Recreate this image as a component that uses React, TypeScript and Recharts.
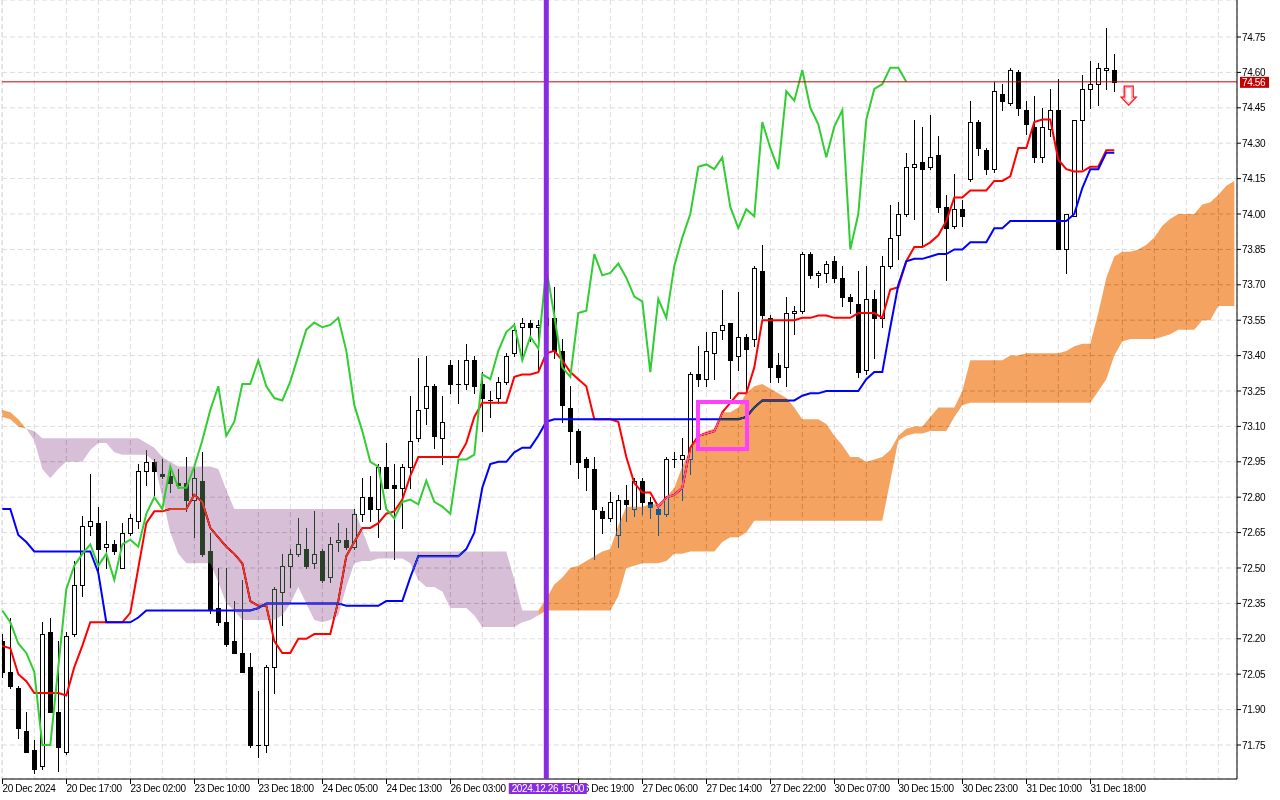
import React from 'react';
import {
  ComposedChart,
  Bar,
  Line,
  Area,
  XAxis,
  YAxis,
  CartesianGrid,
  ReferenceLine,
  ReferenceArea,
  ReferenceDot,
} from 'recharts';

// H1 candles, index 0 = 20 Dec 2024 09:00
const opens = [
  72.19, 72.06, 71.99, 71.81, 71.73, 71.66, 72.23, 71.89, 71.72, 72.22,
  72.43, 72.68, 72.69, 72.59, 72.6, 72.5, 72.65, 72.7, 72.91, 72.95,
  72.9, 72.89, 72.86, 72.86, 72.79, 72.87, 72.57, 72.33, 72.27, 72.19,
  72.14, 72.08, 71.75, 71.75, 72.08, 72.4, 72.51, 72.56, 72.58, 72.52,
  72.57, 72.46, 72.61, 72.62, 72.59, 72.73, 72.8, 72.75, 72.93, 72.85,
  72.84, 72.93, 73.05, 73.18, 73.27, 73.05, 73.36, 73.28, 73.28, 73.38,
  73.28, 73.21, 73.22, 73.29, 73.41, 73.52, 73.54, 73.52, 73.53, 73.56,
  73.42, 73.18, 73.08, 72.96, 72.92, 72.74, 72.71, 72.64, 72.79, 72.75,
  72.87, 72.78, 72.75, 72.73, 72.96, 72.96, 72.96, 73.32, 73.3, 73.41,
  73.51, 73.54, 73.4, 73.48, 73.47, 73.76, 73.56, 73.36, 73.35, 73.58,
  73.59, 73.83, 73.74, 73.75, 73.8, 73.73, 73.65, 73.62, 73.34, 73.64,
  73.56, 73.78, 73.91, 74.0, 74.2, 74.22, 74.2, 74.25, 74.03, 73.95,
  74.02, 74.15, 74.39, 74.27, 74.19, 74.51, 74.47, 74.6, 74.44, 74.37,
  74.24, 74.36, 74.44, 73.85, 73.99, 74.4, 74.53, 74.55, 74.61, 74.61,
];
const highs = [
  72.22, 72.29, 72.0, 71.89, 71.77, 72.27, 72.29, 72.19, 72.23, 72.53,
  72.72, 72.9, 72.76, 72.7, 72.62, 72.69, 72.73, 72.94, 73.0, 72.96,
  72.96, 72.93, 72.92, 72.97, 72.93, 72.99, 72.65, 72.5, 72.5, 72.36,
  72.45, 72.14, 71.98, 72.09, 72.42, 72.56, 72.58, 72.71, 72.67, 72.74,
  72.58, 72.63, 72.69, 72.67, 72.75, 72.88, 72.89, 72.94, 73.03, 72.94,
  72.94, 73.23, 73.39, 73.4, 73.28, 73.23, 73.38, 73.38, 73.45, 73.4,
  73.33, 73.25, 73.31, 73.41, 73.54, 73.56, 73.55, 73.55, 73.62, 73.69,
  73.47, 73.27, 73.09, 72.97, 72.97, 72.76, 72.82, 72.81, 72.85, 72.88,
  72.88, 72.8, 72.76, 72.97, 72.99, 73.05, 73.33, 73.44, 73.5, 73.5,
  73.68, 73.54, 73.67, 73.49, 73.78, 73.87, 73.57, 73.41, 73.65, 73.61,
  73.84, 73.84, 73.76, 73.8, 73.82, 73.78, 73.66, 73.76, 73.78, 73.68,
  73.82, 74.04, 74.05, 74.26, 74.4, 74.37, 74.42, 74.33, 74.08, 74.17,
  74.06, 74.48, 74.4, 74.28, 74.56, 74.55, 74.62, 74.61, 74.48, 74.5,
  74.45, 74.53, 74.57, 74.0, 74.4, 74.59, 74.65, 74.64, 74.79, 74.68,
];
const lows = [
  72.04, 71.99, 71.78, 71.72, 71.63, 71.65, 71.89, 71.64, 71.71, 72.21,
  72.38, 72.64, 72.48, 72.5, 72.56, 72.5, 72.64, 72.67, 72.85, 72.81,
  72.88, 72.82, 72.84, 72.74, 72.63, 72.55, 72.31, 72.26, 72.17, 72.14,
  72.06, 71.74, 71.7, 71.72, 71.97, 72.26, 72.42, 72.55, 72.5, 72.5,
  72.44, 72.44, 72.57, 72.58, 72.58, 72.7, 72.7, 72.63, 72.84, 72.54,
  72.67, 72.84, 73.04, 73.11, 73.01, 72.94, 73.24, 73.2, 73.26, 73.24,
  73.08, 73.14, 73.2, 73.28, 73.4, 73.38, 73.46, 73.33, 73.45, 73.39,
  73.12, 72.94, 72.88, 72.83, 72.54, 72.65, 72.7, 72.59, 72.7, 72.72,
  72.73, 72.71, 72.64, 72.72, 72.93, 72.79, 72.9, 73.27, 73.27, 73.3,
  73.47, 73.22, 73.34, 73.24, 73.44, 73.56, 73.29, 73.29, 73.27, 73.49,
  73.58, 73.73, 73.69, 73.71, 73.71, 73.61, 73.58, 73.31, 73.32, 73.39,
  73.52, 73.77, 73.81, 73.99, 73.98, 73.87, 74.19, 74.01, 73.72, 73.94,
  73.95, 74.14, 74.25, 74.17, 74.18, 74.44, 74.46, 74.42, 74.34, 74.22,
  74.22, 74.33, 73.85, 73.75, 73.99, 74.19, 74.45, 74.46, 74.53, 74.52,
];
const closes = [
  72.06, 72.0, 71.82, 71.72, 71.65, 72.22, 71.89, 71.74, 72.21, 72.43,
  72.68, 72.7, 72.58, 72.6, 72.57, 72.65, 72.71, 72.91, 72.95, 72.91,
  72.89, 72.86, 72.85, 72.79, 72.88, 72.56, 72.32, 72.27, 72.18, 72.14,
  72.06, 71.75, 71.75, 72.08, 72.41, 72.51, 72.56, 72.6, 72.51, 72.56,
  72.45, 72.6, 72.62, 72.59, 72.73, 72.8, 72.75, 72.93, 72.84, 72.84,
  72.93, 73.04, 73.17, 73.27, 73.06, 73.12, 73.28, 73.28, 73.38, 73.27,
  73.22, 73.21, 73.29, 73.4, 73.51, 73.54, 73.52, 73.53, 73.56, 73.42,
  73.19, 73.08, 72.95, 72.93, 72.75, 72.71, 72.78, 72.79, 72.77, 72.87,
  72.78, 72.76, 72.73, 72.96, 72.96, 72.98, 73.32, 73.3, 73.42, 73.5,
  73.53, 73.38, 73.48, 73.43, 73.77, 73.57, 73.35, 73.31, 73.58, 73.59,
  73.83, 73.74, 73.75, 73.79, 73.73, 73.65, 73.63, 73.33, 73.64, 73.56,
  73.78, 73.9, 74.0, 74.2, 74.21, 74.19, 74.24, 74.03, 73.94, 74.02,
  73.99, 74.39, 74.28, 74.19, 74.52, 74.48, 74.61, 74.45, 74.38, 74.24,
  74.37, 74.44, 73.85, 74.0, 74.4, 74.53, 74.55, 74.62, 74.62, 74.56,
];

// Ichimoku lines
const tenkan = [
  72.17, 72.16, 72.05, 72.02, 71.97, 71.97, 71.97, 71.97, 71.96, 72.08,
  72.17, 72.27, 72.27, 72.27, 72.27, 72.27, 72.31, 72.5, 72.69, 72.74,
  72.74, 72.75, 72.75, 72.75, 72.81, 72.78, 72.67, 72.63, 72.59, 72.56,
  72.52, 72.36, 72.34, 72.34, 72.19, 72.14, 72.14, 72.2, 72.2, 72.22,
  72.22, 72.22, 72.36, 72.55, 72.61, 72.67, 72.67, 72.69, 72.73, 72.74,
  72.79, 72.89, 72.97, 72.97, 72.97, 72.97, 72.97, 72.97, 73.03, 73.14,
  73.2, 73.2, 73.2, 73.2, 73.31, 73.32, 73.32, 73.33, 73.41, 73.42,
  73.38, 73.33, 73.3, 73.27, 73.13, 73.13, 73.13, 73.12, 72.97, 72.86,
  72.82, 72.82, 72.76, 72.8, 72.81, 72.84, 73.01, 73.06, 73.07, 73.08,
  73.16, 73.2, 73.24, 73.24, 73.35, 73.55, 73.55, 73.55, 73.55, 73.55,
  73.56, 73.56, 73.57, 73.57, 73.56, 73.56, 73.56, 73.58, 73.58, 73.58,
  73.56, 73.68, 73.69, 73.8, 73.86, 73.86, 73.88, 73.91, 73.97, 74.07,
  74.07, 74.1, 74.1, 74.1, 74.14, 74.14, 74.16, 74.28, 74.28, 74.39,
  74.4, 74.4, 74.23, 74.19, 74.18, 74.18, 74.2, 74.2, 74.27, 74.27,
];
const kijun = [
  72.75, 72.75, 72.64, 72.61, 72.57, 72.57, 72.57, 72.57, 72.57, 72.57,
  72.57, 72.57, 72.48, 72.27, 72.27, 72.27, 72.27, 72.29, 72.32, 72.32,
  72.32, 72.32, 72.32, 72.32, 72.32, 72.32, 72.32, 72.32, 72.32, 72.32,
  72.32, 72.32, 72.33, 72.35, 72.35, 72.35, 72.35, 72.35, 72.35, 72.35,
  72.35, 72.35, 72.35, 72.34, 72.34, 72.34, 72.34, 72.34, 72.36, 72.36,
  72.36, 72.46, 72.55, 72.55, 72.55, 72.55, 72.55, 72.55, 72.58, 72.65,
  72.84, 72.94, 72.95, 72.95, 72.99, 73.01, 73.01, 73.06, 73.12, 73.13,
  73.13, 73.13, 73.13, 73.13, 73.13, 73.13, 73.13, 73.13, 73.13, 73.13,
  73.13, 73.13, 73.13, 73.13, 73.13, 73.13, 73.13, 73.13, 73.13, 73.13,
  73.13, 73.13, 73.13, 73.14, 73.18, 73.21, 73.21, 73.21, 73.21, 73.21,
  73.23, 73.24, 73.24, 73.25, 73.25, 73.25, 73.25, 73.25, 73.3, 73.33,
  73.33, 73.52, 73.7, 73.8, 73.81, 73.81, 73.82, 73.83, 73.83, 73.85,
  73.85, 73.88, 73.88, 73.88, 73.94, 73.94, 73.97, 73.97, 73.97, 73.97,
  73.97, 73.97, 73.97, 73.97, 74.0, 74.11, 74.19, 74.19, 74.26, 74.26,
];
// lagging span (green), plotted 26 bars back
const chikou = [
  72.32, 72.27, 72.18, 72.14, 72.06, 71.75, 71.75, 72.08, 72.41, 72.51,
  72.56, 72.6, 72.51, 72.56, 72.45, 72.6, 72.62, 72.59, 72.73, 72.8,
  72.75, 72.93, 72.84, 72.84, 72.93, 73.04, 73.17, 73.27, 73.06, 73.12,
  73.28, 73.28, 73.38, 73.27, 73.22, 73.21, 73.29, 73.4, 73.51, 73.54,
  73.52, 73.53, 73.56, 73.42, 73.19, 73.08, 72.95, 72.93, 72.75, 72.71,
  72.78, 72.79, 72.77, 72.87, 72.78, 72.76, 72.73, 72.96, 72.96, 72.98,
  73.32, 73.3, 73.42, 73.5, 73.53, 73.38, 73.48, 73.43, 73.77, 73.57,
  73.35, 73.31, 73.58, 73.59, 73.83, 73.74, 73.75, 73.79, 73.73, 73.65,
  73.63, 73.33, 73.64, 73.56, 73.78, 73.9, 74.0, 74.2, 74.21, 74.19,
  74.24, 74.03, 73.94, 74.02, 73.99, 74.39, 74.28, 74.19, 74.52, 74.48,
  74.61, 74.45, 74.38, 74.24, 74.37, 74.44, 73.85, 74.0, 74.4, 74.53,
  74.55, 74.62, 74.62, 74.56,
];
// cloud edges (senkou span A / B), 15 bars past the last candle
const spanA = [
  73.17, 73.16, 73.13, 73.09, 73.04, 72.92, 72.88, 72.92, 72.95, 72.95,
  72.95, 73.0, 73.03, 73.03, 72.99, 72.98, 72.98, 72.98, 72.98, 72.95,
  72.8, 72.65, 72.56, 72.52, 72.52, 72.52, 72.52, 72.44, 72.35, 72.32,
  72.28, 72.28, 72.28, 72.28, 72.28, 72.3, 72.35, 72.42, 72.35, 72.28,
  72.27, 72.28, 72.3, 72.42, 72.52, 72.53, 72.53, 72.54, 72.54, 72.54,
  72.54, 72.52, 72.45, 72.42, 72.42, 72.4, 72.33, 72.33, 72.33, 72.3,
  72.25, 72.25, 72.25, 72.25, 72.25, 72.27, 72.28, 72.3, 72.37, 72.43,
  72.46, 72.5, 72.51, 72.53, 72.55, 72.57, 72.58, 72.68, 72.76, 72.76,
  72.76, 72.77, 72.77, 72.8, 72.84, 72.93, 73.0, 73.06, 73.08, 73.09,
  73.16, 73.16, 73.18, 73.24, 73.27, 73.28, 73.26, 73.24, 73.22, 73.18,
  73.13, 73.13, 73.13, 73.11, 73.06, 73.02, 72.97, 72.97, 72.95, 72.96,
  72.97, 73.0, 73.06, 73.09, 73.1, 73.1, 73.14, 73.18, 73.18, 73.18,
  73.25, 73.38, 73.38, 73.38, 73.38, 73.38, 73.4, 73.4, 73.41, 73.41,
  73.41, 73.41, 73.41, 73.42, 73.44, 73.45, 73.45, 73.58, 73.73, 73.82,
  73.84, 73.84, 73.85, 73.87, 73.9, 73.95, 73.98, 74.0, 74.0, 74.0,
  74.04, 74.05, 74.08, 74.12, 74.14,
];
const spanB = [
  73.14, 73.13, 73.1, 73.09, 73.08, 73.05, 73.05, 73.05, 73.05, 73.05,
  73.05, 73.05, 73.05, 73.05, 73.05, 73.05, 73.05, 73.05, 73.03, 73.01,
  72.97, 72.95, 72.93, 72.93, 72.93, 72.93, 72.93, 72.92, 72.83, 72.75,
  72.75, 72.75, 72.75, 72.75, 72.75, 72.75, 72.75, 72.75, 72.75, 72.75,
  72.75, 72.75, 72.75, 72.75, 72.75, 72.66, 72.57, 72.57, 72.57, 72.57,
  72.57, 72.57, 72.57, 72.57, 72.57, 72.57, 72.57, 72.57, 72.57, 72.57,
  72.57, 72.57, 72.57, 72.57, 72.45, 72.32, 72.32, 72.32, 72.32, 72.32,
  72.32, 72.32, 72.32, 72.32, 72.32, 72.32, 72.32, 72.38, 72.5, 72.51,
  72.52, 72.52, 72.52, 72.53, 72.56, 72.56, 72.57, 72.57, 72.57, 72.57,
  72.61, 72.63, 72.63, 72.65, 72.7, 72.7, 72.7, 72.7, 72.7, 72.7,
  72.7, 72.7, 72.7, 72.7, 72.7, 72.7, 72.7, 72.7, 72.7, 72.7,
  72.7, 72.87, 73.04, 73.06, 73.07, 73.07, 73.08, 73.08, 73.08, 73.14,
  73.19, 73.2, 73.2, 73.2, 73.2, 73.2, 73.2, 73.2, 73.2, 73.2,
  73.2, 73.2, 73.2, 73.2, 73.2, 73.2, 73.2, 73.25, 73.3, 73.4,
  73.46, 73.47, 73.47, 73.47, 73.47, 73.48, 73.49, 73.51, 73.51, 73.51,
  73.55, 73.55, 73.61, 73.61, 73.61,
];

const priceTicks = [
  71.75, 71.9, 72.05, 72.2, 72.35, 72.5, 72.65, 72.8, 72.95, 73.1, 73.25,
  73.4, 73.55, 73.7, 73.85, 74.0, 74.15, 74.3, 74.45, 74.6, 74.75,
];
// one label every 8 bars; the 26 Dec 11:00 slot sits under the marker label
const timeLabels = [
  '20 Dec 2024', '20 Dec 17:00', '23 Dec 02:00', '23 Dec 10:00', '23 Dec 18:00',
  '24 Dec 05:00', '24 Dec 13:00', '26 Dec 03:00', '', '26 Dec 19:00',
  '27 Dec 06:00', '27 Dec 14:00', '27 Dec 22:00', '30 Dec 07:00', '30 Dec 15:00',
  '30 Dec 23:00', '31 Dec 10:00', '31 Dec 18:00',
];
const lastPrice = 74.56;
const markerBar = 68;
const markerLabel = '2024.12.26 15:00';
const boxBars = [86.96, 93.09];
const boxPrices = [73.004, 73.203];
const signalBar = 140.8;
const signalPrice = 74.542;

const FONT = '"Liberation Sans", Arial, sans-serif';
const X_DOMAIN: [number, number] = [-0.0375, 154.3375];
const Y_DOMAIN: [number, number] = [71.6059, 74.9068];
const W = 1280;
const H = 800;
const MARGIN = { top: 0, right: 0, left: 2, bottom: 0 };

const isPurple = (k: number) => k >= 0 && k < spanA.length && spanB[k] > spanA[k];
const isOrange = (k: number) => k >= 0 && k < spanA.length && spanA[k] >= spanB[k];

const rows = spanA.map((a, i) => {
  const hasBar = i < closes.length;
  const band = [Math.min(a, spanB[i]), Math.max(a, spanB[i])];
  return {
    i,
    range: hasBar ? [lows[i], highs[i]] : null,
    open: hasBar ? opens[i] : null,
    high: hasBar ? highs[i] : null,
    low: hasBar ? lows[i] : null,
    close: hasBar ? closes[i] : null,
    tenkan: i < tenkan.length ? tenkan[i] : null,
    kijun: i < kijun.length ? kijun[i] : null,
    chikou: i < chikou.length ? chikou[i] : null,
    purple: isPurple(i) || isPurple(i + 1) ? band : null,
    orange: isOrange(i) || isOrange(i + 1) ? band : null,
  };
});

const gridTicks = Array.from({ length: 39 }, (_, k) => k * 4);

function Candle(props: any) {
  const { x, y, width, height, payload } = props;
  if (!payload || payload.range == null) return null;
  const { open, high, low, close } = payload;
  const top = Math.min(y, y + height);
  const h = Math.abs(height);
  const span = high - low;
  const py = (p: number) => (span > 0 ? top + ((high - p) / span) * h : top);
  const cx = Math.round(x + width / 2);
  const bTop = Math.round(py(Math.max(open, close)));
  const bBot = Math.round(py(Math.min(open, close)));
  const bull = close >= open;
  return (
    <g shapeRendering="crispEdges">
      <line x1={cx + 0.5} x2={cx + 0.5} y1={Math.round(top)} y2={Math.round(top + h) + 1} stroke="#000" />
      {bBot - bTop < 1 ? (
        <line x1={cx - 2} x2={cx + 3} y1={bTop + 0.5} y2={bTop + 0.5} stroke="#000" />
      ) : (
        <rect x={cx - 1.5} y={bTop + 0.5} width={4} height={bBot - bTop} fill={bull ? '#fff' : '#000'} stroke="#000" />
      )}
    </g>
  );
}

function TimeTick(props: any) {
  const { x, y, payload } = props;
  const idx = payload.value;
  if (idx % 8 !== 0) return <g />;
  const label = timeLabels[idx / 8];
  if (!label) return <g />;
  const px = Math.round(x) + 0.5;
  return (
    <g>
      <line x1={px} x2={px} y1={y} y2={y + 5} stroke="#000" shapeRendering="crispEdges" />
      <text x={px} y={y + 13} fontSize={10} fontFamily={FONT} fill="#000" letterSpacing={-0.35}>
        {label}
      </text>
    </g>
  );
}

function MarkerLabel(props: any) {
  const vb = props.viewBox;
  if (!vb) return null;
  const cx = vb.x;
  const bottom = vb.y + vb.height;
  return (
    <g>
      <rect x={cx - 37.5} y={bottom + 4} width={78} height={11} fill="#8a2be2" />
      <text x={cx + 1.5} y={bottom + 13} textAnchor="middle" fontSize={10} fontFamily={FONT} fill="#fff" letterSpacing={-0.35}>
        {markerLabel}
      </text>
    </g>
  );
}

function PriceLabel(props: any) {
  const vb = props.viewBox;
  if (!vb) return null;
  const left = vb.x + vb.width + 3;
  return (
    <g>
      <rect x={left} y={vb.y - 5} width={29} height={11} fill="#c40000" />
      <text x={left + 2} y={vb.y + 4} fontSize={10} fontFamily={FONT} fill="#fff" letterSpacing={-0.35}>
        {lastPrice.toFixed(2)}
      </text>
    </g>
  );
}

function SellArrow(props: any) {
  const { cx, cy } = props;
  const d = `M${cx - 4.5},${cy} H${cx + 4.5} V${cy + 11} H${cx + 7.5} L${cx},${cy + 19} L${cx - 7.5},${cy + 11} H${cx - 4.5} Z`;
  const inner = `M${cx - 3},${cy + 1.5} H${cx + 3} V${cy + 12.5} H${cx + 4.5} L${cx},${cy + 17} L${cx - 4.5},${cy + 12.5} H${cx - 3} Z`;
  return (
    <g>
      <path d={d} fill="#fff" stroke="#ff1010" strokeWidth={1.3} />
      <path d={inner} fill="none" stroke="#ff9ab4" strokeWidth={1} />
    </g>
  );
}

// invisible axes so the overlay layers share the base plot area
const ghostAxes = [
  <XAxis key="x" dataKey="i" type="number" domain={X_DOMAIN} allowDataOverflow height={21} tick={false} tickLine={false} axisLine={false} />,
  <YAxis key="y" orientation="right" type="number" domain={Y_DOMAIN} allowDataOverflow width={43} tick={false} tickLine={false} axisLine={false} />,
];

const layer: React.CSSProperties = { position: 'absolute', left: 0, top: 0, width: W, height: H };

export default function App() {
  return (
    <div style={{ position: 'relative', width: W, height: H, background: '#fff' }}>
      <style>{'body { margin: 0; background: #fff; }'}</style>

      {/* base: grid, axes, candles, tenkan, kijun */}
      <div style={layer}>
        <ComposedChart width={W} height={H} data={rows} margin={MARGIN}>
          <CartesianGrid stroke="#dcdcdc" strokeDasharray="5 3" />
          <XAxis
            dataKey="i"
            type="number"
            domain={X_DOMAIN}
            allowDataOverflow
            ticks={gridTicks}
            interval={0}
            height={21}
            tickSize={0}
            tickMargin={0}
            tickLine={false}
            axisLine={{ stroke: '#000' }}
            tick={(p: any) => <TimeTick {...p} />}
          />
          <YAxis
            orientation="right"
            type="number"
            domain={Y_DOMAIN}
            allowDataOverflow
            ticks={priceTicks}
            interval={0}
            width={43}
            tickSize={4}
            tickMargin={1}
            tickLine={{ stroke: '#000' }}
            axisLine={{ stroke: '#000' }}
            tick={{ fontSize: 10, fill: '#000', fontFamily: FONT, letterSpacing: -0.35 }}
            tickFormatter={(v: number) => v.toFixed(2)}
          />
          <YAxis
            yAxisId="frame"
            orientation="left"
            width={0}
            domain={Y_DOMAIN}
            tick={false}
            tickLine={false}
            axisLine={{ stroke: '#000' }}
          />
          <Bar dataKey="range" barSize={5} isAnimationActive={false} shape={(p: any) => <Candle {...p} />} />
          <Line dataKey="tenkan" type="linear" stroke="#ff0000" strokeWidth={2} dot={false} activeDot={false} isAnimationActive={false} />
          <Line dataKey="kijun" type="linear" stroke="#0000ff" strokeWidth={2} dot={false} activeDot={false} isAnimationActive={false} />
        </ComposedChart>
      </div>

      {/* cloud: inverse colours blended with difference, like the terminal's XOR fill */}
      <div style={{ ...layer, mixBlendMode: 'difference' }}>
        <ComposedChart width={W} height={H} data={rows} margin={MARGIN}>
          {ghostAxes}
          <Area dataKey="purple" type="linear" stroke="none" fill="#274027" fillOpacity={1} dot={false} activeDot={false} isAnimationActive={false} />
          <Area dataKey="orange" type="linear" stroke="none" fill="#0b5b9f" fillOpacity={1} dot={false} activeDot={false} isAnimationActive={false} />
        </ComposedChart>
      </div>

      {/* top: chikou and chart objects */}
      <div style={layer}>
        <ComposedChart width={W} height={H} data={rows} margin={MARGIN}>
          {ghostAxes}
          <Line dataKey="chikou" type="linear" stroke="#32cd32" strokeWidth={2} dot={false} activeDot={false} isAnimationActive={false} />
          <ReferenceLine y={lastPrice} stroke="#cc0000" strokeWidth={1} label={(p: any) => <PriceLabel {...p} />} />
          <ReferenceArea x1={boxBars[0]} x2={boxBars[1]} y1={boxPrices[0]} y2={boxPrices[1]} fill="none" fillOpacity={0} stroke="#ff40ff" strokeWidth={4} />
          <ReferenceLine x={markerBar} stroke="#8a2be2" strokeWidth={5} label={(p: any) => <MarkerLabel {...p} />} />
          <ReferenceDot x={signalBar} y={signalPrice} r={0} shape={(p: any) => <SellArrow {...p} />} />
        </ComposedChart>
      </div>
    </div>
  );
}
